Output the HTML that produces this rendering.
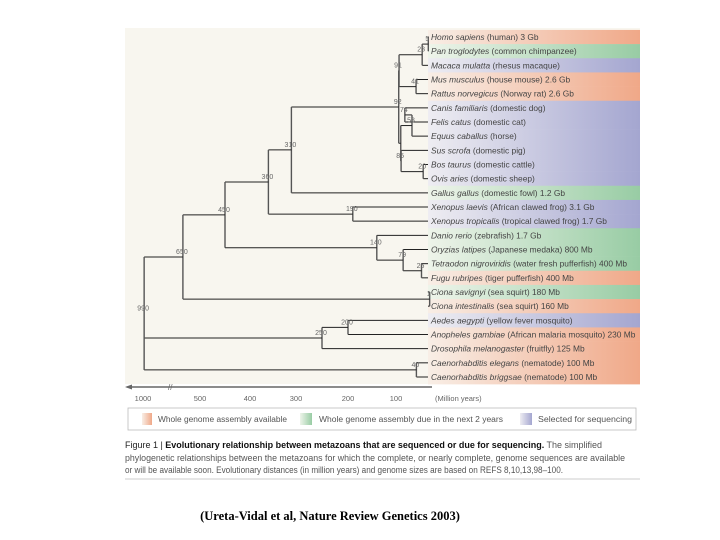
<!DOCTYPE html>
<html><head><meta charset="utf-8"><style>
body{margin:0;background:#fff;}
svg{display:block;font-family:"Liberation Sans",sans-serif;}
</style></head><body>
<svg id="chart" width="720" height="540" viewBox="0 0 720 540">
<defs>
<linearGradient id="gO" x1="0" x2="1"><stop offset="0" stop-color="#f8eee6"/><stop offset="1" stop-color="#f0a888"/></linearGradient>
<linearGradient id="gG" x1="0" x2="1"><stop offset="0" stop-color="#eef4ea"/><stop offset="1" stop-color="#98cca4"/></linearGradient>
<linearGradient id="gP" x1="0" x2="1"><stop offset="0" stop-color="#eeedf2"/><stop offset="1" stop-color="#a4a6d0"/></linearGradient>
</defs>
<rect x="125" y="28" width="515" height="356" fill="#f8f6ef"/>
<g id="bands"></g>
<g id="tree"></g>
<g id="axis"></g>
<g>
<rect x="128" y="408" width="508" height="22" fill="#fff" stroke="#bbb" stroke-width="0.8"/>
<rect x="142" y="413" width="10" height="12" fill="url(#gO)"/>
<text x="158" y="422" font-size="8" fill="#555" textLength="129" lengthAdjust="spacingAndGlyphs">Whole genome assembly available</text>
<rect x="300" y="413" width="12" height="12" fill="url(#gG)"/>
<text x="319" y="422" font-size="8" fill="#555" textLength="184" lengthAdjust="spacingAndGlyphs">Whole genome assembly due in the next 2 years</text>
<rect x="520" y="413" width="12" height="12" fill="url(#gP)"/>
<text x="538" y="422" font-size="8" fill="#555" textLength="94" lengthAdjust="spacingAndGlyphs">Selected for sequencing</text>
</g>
<g font-size="8.8" fill="#555">
<text x="125" y="448" textLength="477" lengthAdjust="spacingAndGlyphs"><tspan fill="#222">Figure 1 | </tspan><tspan font-weight="bold" fill="#111">Evolutionary relationship between metazoans that are sequenced or due for sequencing.</tspan> The simplified</text>
<text x="125" y="461" textLength="500" lengthAdjust="spacingAndGlyphs">phylogenetic relationships between the metazoans for which the complete, or nearly complete, genome sequences are available</text>
<text x="125" y="473" textLength="438" lengthAdjust="spacingAndGlyphs">or will be available soon. Evolutionary distances (in million years) and genome sizes are based on REFS 8,10,13,98–100.</text>
</g>
<line x1="125" y1="479" x2="640" y2="479" stroke="#ccc" stroke-width="1"/>
<text x="330" y="520" text-anchor="middle" font-family="Liberation Serif,serif" font-weight="bold" font-size="12.5" fill="#000">(Ureta-Vidal et al, Nature Review Genetics 2003)</text>
</svg>
<script>
const species=["Homo sapiens","Pan troglodytes","Macaca mulatta","Mus musculus","Rattus norvegicus","Canis familiaris","Felis catus","Equus caballus","Sus scrofa","Bos taurus","Ovis aries","Gallus gallus","Xenopus laevis","Xenopus tropicalis","Danio rerio","Oryzias latipes","Tetraodon nigroviridis","Fugu rubripes","Ciona savignyi","Ciona intestinalis","Aedes aegypti","Anopheles gambiae","Drosophila melanogaster","Caenorhabditis elegans","Caenorhabditis briggsae"];
const commonNames=[" (human) 3 Gb"," (common chimpanzee)"," (rhesus macaque)"," (house mouse) 2.6 Gb"," (Norway rat) 2.6 Gb"," (domestic dog)"," (domestic cat)"," (horse)"," (domestic pig)"," (domestic cattle)"," (domestic sheep)"," (domestic fowl) 1.2 Gb"," (African clawed frog) 3.1 Gb"," (tropical clawed frog) 1.7 Gb"," (zebrafish) 1.7 Gb"," (Japanese medaka) 800 Mb"," (water fresh pufferfish) 400 Mb"," (tiger pufferfish) 400 Mb"," (sea squirt) 180 Mb"," (sea squirt) 160 Mb"," (yellow fever mosquito)"," (African malaria mosquito) 230 Mb"," (fruitfly) 125 Mb"," (nematode) 100 Mb"," (nematode) 100 Mb"];
const status=["O","G","P","O","O","P","P","P","P","P","P","G","P","P","G","G","G","O","G","O","P","O","O","O","O"];
const axisTicks=[1000,500,400,300,200,100];
function N(age,label,kids){return {age,label,kids};}
const tree=N(990,"990",[
 N(650,"650",[
  N(450,"450",[
   N(360,"360",[
    N(310,"310",[
     N(92,"92",[
      N(91,"91",[N(23,"23",[N(5,"5",[0,1]),2]),N(41,"41",[3,4])]),
      N(86,"",[N(53,"53",[N(74,"74",[5,6]),7]),N(85,"85",[8,N(20,"20",[9,10])])])
     ]),11]),
    N(190,"190",[12,13])]),
   N(140,"140",[14,N(79,"79",[15,N(25,"25",[16,17])])])]),
  N(1,"1",[18,19])]),
 N(250,"250",[N(200,"200",[20,21]),22]),
 N(40,"40",[23,24])]);
const knotAge=[0,100,200,300,400,500,1000];
const knotX=[430,396,348,296,250,200,143];
function xScale(t){for(let i=1;i<knotAge.length;i++){if(t<=knotAge[i]){const f=(t-knotAge[i-1])/(knotAge[i]-knotAge[i-1]);return knotX[i-1]+f*(knotX[i]-knotX[i-1]);}}return knotX[knotX.length-1];}
const y0=37,dy=(377-37)/24;
function yScale(i){return y0+i*dy;}
const NS="http://www.w3.org/2000/svg";
function mk(tag,attrs,parent){const e=document.createElementNS(NS,tag);for(const k in attrs)e.setAttribute(k,attrs[k]);parent.appendChild(e);return e;}
const bands=document.getElementById('bands'),tg=document.getElementById('tree'),ag=document.getElementById('axis');
const grad={O:"url(#gO)",G:"url(#gG)",P:"url(#gP)"};
species.forEach((s,i)=>{
 const r=mk('rect',{x:428,y:yScale(i)-dy/2,width:212,height:dy+0.3,fill:grad[status[i]]},bands);
 
 
 const t=mk('text',{x:431,y:yScale(i)+3,'font-size':'8.4',fill:'#444'},bands);
 
 
 const it=mk('tspan',{'font-style':'italic'},t);it.textContent=s;
 const c=mk('tspan',{},t);c.textContent=commonNames[i];
});
function draw(node,parentX){
 if(typeof node==='number'){
  const y=yScale(node);
  const l=mk('line',{x1:parentX,y1:y,x2:428,y2:y,stroke:'#222','stroke-width':1},tg);
  
  
  return y;
 }
 const x=xScale(node.age);
 const ys=node.kids.map(k=>draw(k,x));
 const ymin=Math.min(...ys),ymax=Math.max(...ys),ym=(ys[0]+ys[ys.length-1])/2;
 const v=mk('line',{x1:x,y1:ymin,x2:x,y2:ymax,stroke:'#555','stroke-width':1.4},tg);
 
 
 if(parentX!==undefined){
  const h=mk('line',{x1:parentX,y1:ym,x2:x,y2:ym,stroke:'#222','stroke-width':1},tg);
  
  
 }
 if(node.label){
  const t=mk('text',{x:x-1,y:ym-3,'font-size':'7','text-anchor':'middle',fill:'#666'},tg);
  t.textContent=node.label;
  
  
 }
 return ym;
}
draw(tree,undefined);
const al=mk('line',{x1:128,y1:387,x2:432,y2:387,stroke:'#666','stroke-width':1.6},ag);


const ar=mk('path',{d:'M125,387 L132,384.5 L132,389.5 Z',fill:'#666'},ag);


const br=mk('text',{x:168,y:390,'font-size':'8',fill:'#666'},ag);br.textContent='//';


axisTicks.forEach(v=>{
 const x=xScale(v);
 const t=mk('text',{x:x,y:401,'font-size':'7.5','text-anchor':'middle',fill:'#666'},ag);
 t.textContent=v;
 
 
});
const ut=mk('text',{x:435,y:401,'font-size':'7.5',fill:'#666'},ag);ut.textContent='(Million years)';


</script>
</body></html>
